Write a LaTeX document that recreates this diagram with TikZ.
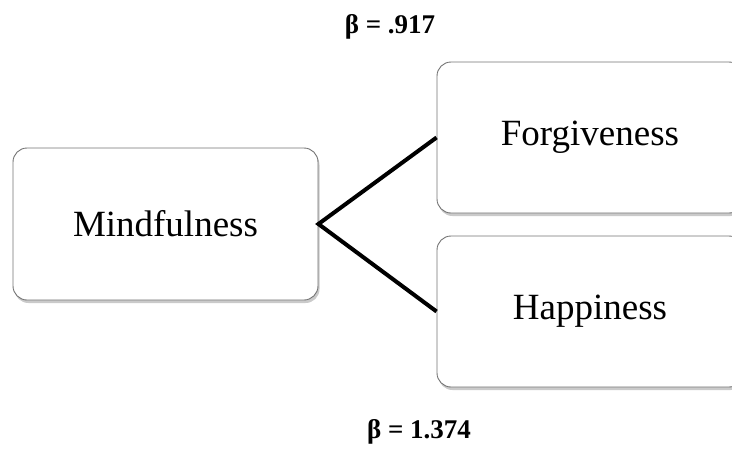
\documentclass[tikz,border=0pt]{standalone}
\usepackage{fontspec}
\setmainfont{Liberation Serif}
\usetikzlibrary{shadows}
\begin{document}
\begin{tikzpicture}[x=1pt,y=-1pt,
  box/.style={draw=black!55, line width=0.9pt, rounded corners=14pt, fill=white,
    drop shadow={shadow xshift=1.5pt, shadow yshift=-3pt, opacity=0.35, fill=black!60},
    inner sep=0pt, font=\fontsize{37}{44}\selectfont},
  link/.style={line width=4pt, black, miter limit=10},
  beta/.style={font=\bfseries\fontsize{27}{32}\selectfont, inner sep=0pt}]
\useasboundingbox (0,0) rectangle (732,453);
\clip (0,0) rectangle (732,453);
\node[box, minimum width=305pt, minimum height=152pt] (mind) at (165.5,224) {\raisebox{-3pt}{Mindfulness}};
\node[box, minimum width=306pt, minimum height=151pt] (forg) at (590,137.5) {Forgiveness};
\node[box, minimum width=306pt, minimum height=151pt] (happ) at (590,311.5) {Happiness};
\draw[link] (forg.west) -- (mind.east) -- (happ.west);
\node[beta] (b1) at (390,27) {β = .917};
\node[beta] (b2) at (419,432) {β = 1.374};
\end{tikzpicture}
\end{document}
